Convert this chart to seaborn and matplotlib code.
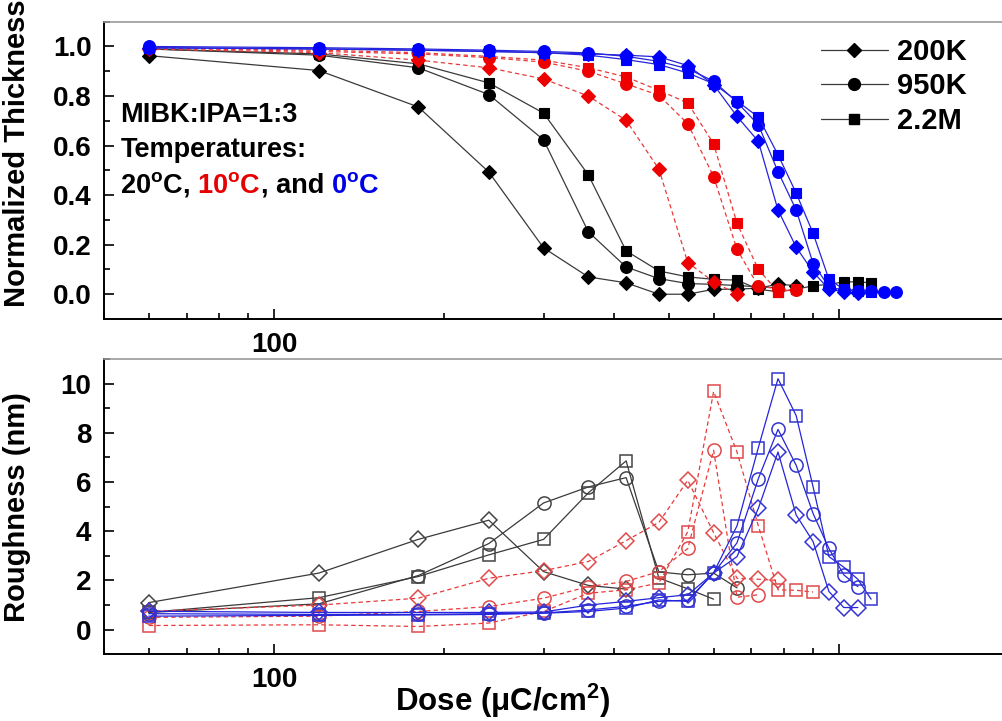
import pandas as pd
import matplotlib
matplotlib.use('Agg')
import matplotlib.pyplot as plt
import matplotlib.ticker as mticker
from matplotlib.lines import Line2D
import seaborn as sns

# doses (uC/cm^2) at which the samples were measured
dose = [60, 120, 180, 240, 300, 360, 420, 480, 540, 600, 660,
        720, 780, 840, 900, 960, 1020, 1080, 1140, 1200, 1260]

# normalized thickness, each series starts at 60 uC/cm^2
th_20_200k = [0.963, 0.903, 0.756, 0.493, 0.187, 0.07, 0.046, 0.0, 0.0, 0.02, 0.02,
              0.025, 0.04, 0.035]
th_20_950k = [0.99, 0.965, 0.914, 0.806, 0.623, 0.252, 0.11, 0.063, 0.043, 0.04, 0.035,
              0.03, 0.025]
th_20_22m = [0.99, 0.97, 0.93, 0.853, 0.731, 0.482, 0.175, 0.094, 0.07, 0.06, 0.057,
             0.02, 0.01, 0.02, 0.034, 0.04, 0.05, 0.05, 0.046]
th_10_200k = [0.99, 0.975, 0.945, 0.914, 0.869, 0.8, 0.702, 0.505, 0.128, 0.05, 0.0]
th_10_950k = [0.995, 0.98, 0.97, 0.955, 0.937, 0.9, 0.849, 0.803, 0.688, 0.475, 0.181,
              0.032, 0.023, 0.016]
th_10_22m = [0.995, 0.985, 0.975, 0.96, 0.945, 0.914, 0.877, 0.823, 0.772, 0.607, 0.286,
             0.1, 0.01, 0.02]
th_0_200k = [0.995, 0.99, 0.985, 0.98, 0.975, 0.97, 0.965, 0.958, 0.923, 0.846, 0.718,
             0.617, 0.34, 0.19, 0.09, 0.02, 0.01, 0.005]
th_0_950k = [1.0, 0.995, 0.99, 0.985, 0.98, 0.974, 0.96, 0.94, 0.91, 0.86, 0.775,
             0.684, 0.495, 0.34, 0.124, 0.03, 0.016, 0.014, 0.014, 0.008, 0.008]
th_0_22m = [0.995, 0.99, 0.985, 0.98, 0.975, 0.965, 0.947, 0.927, 0.893, 0.85, 0.78,
            0.715, 0.563, 0.408, 0.246, 0.06, 0.02, 0.015, 0.01]

# roughness (nm)
ro_20_200k = [1.1, 2.3, 3.67, 4.45, 2.36, 1.8, 1.65]
ro_20_950k = [0.7, 1.05, 2.2, 3.5, 5.15, 5.8, 6.18, 2.35, 2.23, 2.3, 1.7]
ro_20_22m = [0.7, 1.3, 2.16, 3.04, 3.67, 5.56, 6.86, 2.1, 1.66, 1.24]
ro_10_200k = [0.75, 1.0, 1.28, 2.09, 2.4, 2.77, 3.62, 4.36, 6.07, 3.94, 2.09, 2.05, 2.0]
ro_10_950k = [0.5, 0.55, 0.74, 0.94, 1.28, 1.75, 1.96, 2.36, 3.3, 7.29, 1.32, 1.42]
ro_10_22m = [0.17, 0.2, 0.13, 0.27, 0.74, 1.48, 1.62, 1.9, 3.98, 9.68, 7.22, 4.22,
             1.62, 1.6, 1.53]
ro_0_200k = [0.75, 0.7, 0.7, 0.7, 0.72, 1.0, 1.15, 1.3, 1.42, 2.3, 2.97, 4.93, 7.22,
             4.66, 3.58, 1.55, 0.9, 0.9]
ro_0_950k = [0.65, 0.62, 0.62, 0.65, 0.68, 0.8, 0.95, 1.15, 1.2, 2.3, 3.53, 6.14, 8.14,
             6.68, 4.72, 3.3, 2.23, 1.75]
ro_0_22m = [0.55, 0.58, 0.6, 0.62, 0.67, 0.74, 0.88, 1.21, 1.15, 2.32, 4.22, 7.4, 10.2,
            8.7, 5.8, 2.97, 2.54, 2.05, 1.24]

temps = ['20C', '10C', '0C']
mws = ['200K', '950K', '2.2M']
thickness = {('20C', '200K'): th_20_200k, ('20C', '950K'): th_20_950k, ('20C', '2.2M'): th_20_22m,
             ('10C', '200K'): th_10_200k, ('10C', '950K'): th_10_950k, ('10C', '2.2M'): th_10_22m,
             ('0C', '200K'): th_0_200k, ('0C', '950K'): th_0_950k, ('0C', '2.2M'): th_0_22m}
roughness = {('20C', '200K'): ro_20_200k, ('20C', '950K'): ro_20_950k, ('20C', '2.2M'): ro_20_22m,
             ('10C', '200K'): ro_10_200k, ('10C', '950K'): ro_10_950k, ('10C', '2.2M'): ro_10_22m,
             ('0C', '200K'): ro_0_200k, ('0C', '950K'): ro_0_950k, ('0C', '2.2M'): ro_0_22m}

rows = []
for panel, table in [('thickness', thickness), ('roughness', roughness)]:
    for (t, m), vals in table.items():
        for d, v in zip(dose, vals):
            rows.append({'panel': panel, 'temp': t, 'mw': m, 'dose': d, 'value': v})
df = pd.DataFrame(rows)

sns.set_style('ticks')
plt.rcParams['font.family'] = ['Liberation Sans', 'DejaVu Sans']
plt.rcParams['font.weight'] = 'bold'
plt.rcParams['text.color'] = 'black'
plt.rcParams['axes.labelcolor'] = 'black'
plt.rcParams['xtick.color'] = 'black'
plt.rcParams['ytick.color'] = 'black'
plt.rcParams['mathtext.fontset'] = 'custom'
plt.rcParams['mathtext.rm'] = 'Liberation Sans:bold'
plt.rcParams['mathtext.bf'] = 'Liberation Sans:bold'
plt.rcParams['mathtext.it'] = 'Liberation Sans:bold'

line_col = {'20C': '#3a3a3a', '10C': '#e83a3a', '0C': '#2424dc'}
fill_col = {'20C': '#000000', '10C': '#ee0000', '0C': '#0000ff'}
open_col = {'20C': '#444444', '10C': '#e04a4a', '0C': '#3434d0'}
dash = {'20C': '-', '10C': (0, (3.5, 2.5)), '0C': '-'}
mark = {'200K': 'D', '950K': 'o', '2.2M': 's'}
msize_top = {'200K': 7.5, '950K': 8.5, '2.2M': 7.5}
msize_bot = {'200K': 8.5, '950K': 9.5, '2.2M': 9.0}

fig = plt.figure(figsize=(10.02, 7.21), dpi=100)
ax1 = fig.add_axes([104 / 1002, 1 - 319 / 721, 905 / 1002, 297.3 / 721])
ax2 = fig.add_axes([104 / 1002, 1 - 654.3 / 721, 905 / 1002, 295.3 / 721])

for t in temps:
    for m in mws:
        sub = df[(df['panel'] == 'thickness') & (df['temp'] == t) & (df['mw'] == m)]
        sns.lineplot(data=sub, x='dose', y='value', ax=ax1, color=line_col[t],
                     linestyle=dash[t], linewidth=0.9, marker=mark[m],
                     markersize=msize_top[m], markerfacecolor=fill_col[t],
                     markeredgecolor=fill_col[t], markeredgewidth=0.8)
        sub = df[(df['panel'] == 'roughness') & (df['temp'] == t) & (df['mw'] == m)]
        sns.lineplot(data=sub, x='dose', y='value', ax=ax2, color=line_col[t],
                     linestyle=dash[t], linewidth=0.9, marker=mark[m],
                     markersize=msize_bot[m], markerfacecolor='none',
                     markeredgecolor=open_col[t], markeredgewidth=1.1)

for ax in (ax1, ax2):
    ax.set_xscale('log')
    ax.set_xlim(50, 2000)
    ax.xaxis.set_major_locator(mticker.FixedLocator([100, 1000]))
    ax.xaxis.set_major_formatter(mticker.FixedFormatter(['100', '']))
    ax.xaxis.set_minor_locator(mticker.LogLocator(subs=range(2, 10)))
    ax.xaxis.set_minor_formatter(mticker.NullFormatter())
    ax.tick_params(which='both', direction='in', width=1.2, labelsize=20, pad=9,
                   color='black', labelcolor='black')
    ax.tick_params(which='major', length=7)
    ax.tick_params(which='minor', length=4)
    for s in ('left', 'bottom'):
        ax.spines[s].set_linewidth(1.4)
        ax.spines[s].set_color('black')
    ax.spines['top'].set_color('#9a9a9a')
    ax.spines['top'].set_linewidth(1.2)
    ax.spines['right'].set_visible(False)
    for lab in ax.get_xticklabels() + ax.get_yticklabels():
        lab.set_fontweight('bold')

ax1.set_ylim(-0.1, 1.1)
ax1.yaxis.set_major_locator(mticker.MultipleLocator(0.2))
ax1.yaxis.set_minor_locator(mticker.MultipleLocator(0.1))
ax1.yaxis.set_major_formatter(mticker.FormatStrFormatter('%.1f'))
ax1.set_xlabel('')
ax1.set_ylabel('Normalized Thickness', fontsize=21, fontweight='bold', color='black')
ax1.yaxis.set_label_coords(-0.081, 0.557)

ax2.set_ylim(-1, 11)
ax2.yaxis.set_major_locator(mticker.MultipleLocator(2))
ax2.yaxis.set_minor_locator(mticker.MultipleLocator(1))
ax2.set_ylabel('Roughness (nm)', fontsize=21, fontweight='bold', color='black')
ax2.yaxis.set_label_coords(-0.081, 0.5)
ax2.set_xlabel(r'Dose ($\mathregular{\mu}$C/cm$^{2}$)', fontsize=22.5, fontweight='bold',
               color='black')
ax2.xaxis.set_label_coords(0.44, -0.092)

# annotation block
tk = dict(fontsize=19.5, fontweight='bold', color='black', transform=ax1.transAxes)
ax1.text(0.018, 0.664, 'MIBK:IPA=1:3', **tk)
ax1.text(0.018, 0.546, 'Temperatures:', **tk)
pieces = [(r'20$^{o}$C,', 'black'), (r'10$^{o}$C', '#e60000'),
          (', and', 'black'), (r'0$^{o}$C', '#0000e6')]
gaps = [0, 5, 0, 5]
prev = ax1.annotate(pieces[0][0], xy=(0.018, 0.405), xycoords='axes fraction',
                    va='bottom', ha='left', color=pieces[0][1], fontsize=19.5,
                    fontweight='bold')
for (txt, col), g in zip(pieces[1:], gaps[1:]):
    prev = ax1.annotate(txt, xy=(1, 0), xycoords=prev, xytext=(g, 0),
                        textcoords='offset points', va='bottom', ha='left',
                        color=col, fontsize=19.5, fontweight='bold')

handles = [Line2D([], [], color='#3a3a3a', lw=0.9, marker=mark[m], ms=msize_top[m],
                  mfc='black', mec='black') for m in mws]
leg = ax1.legend(handles, mws, loc='upper left', bbox_to_anchor=(0.792, 0.945),
                 frameon=False, handlelength=2.3, handletextpad=0.3,
                 labelspacing=0.22, borderpad=0, borderaxespad=0,
                 prop={'weight': 'bold', 'size': 21})
for txt in leg.get_texts():
    txt.set_color('black')

fig.savefig('out.png', dpi=100)
